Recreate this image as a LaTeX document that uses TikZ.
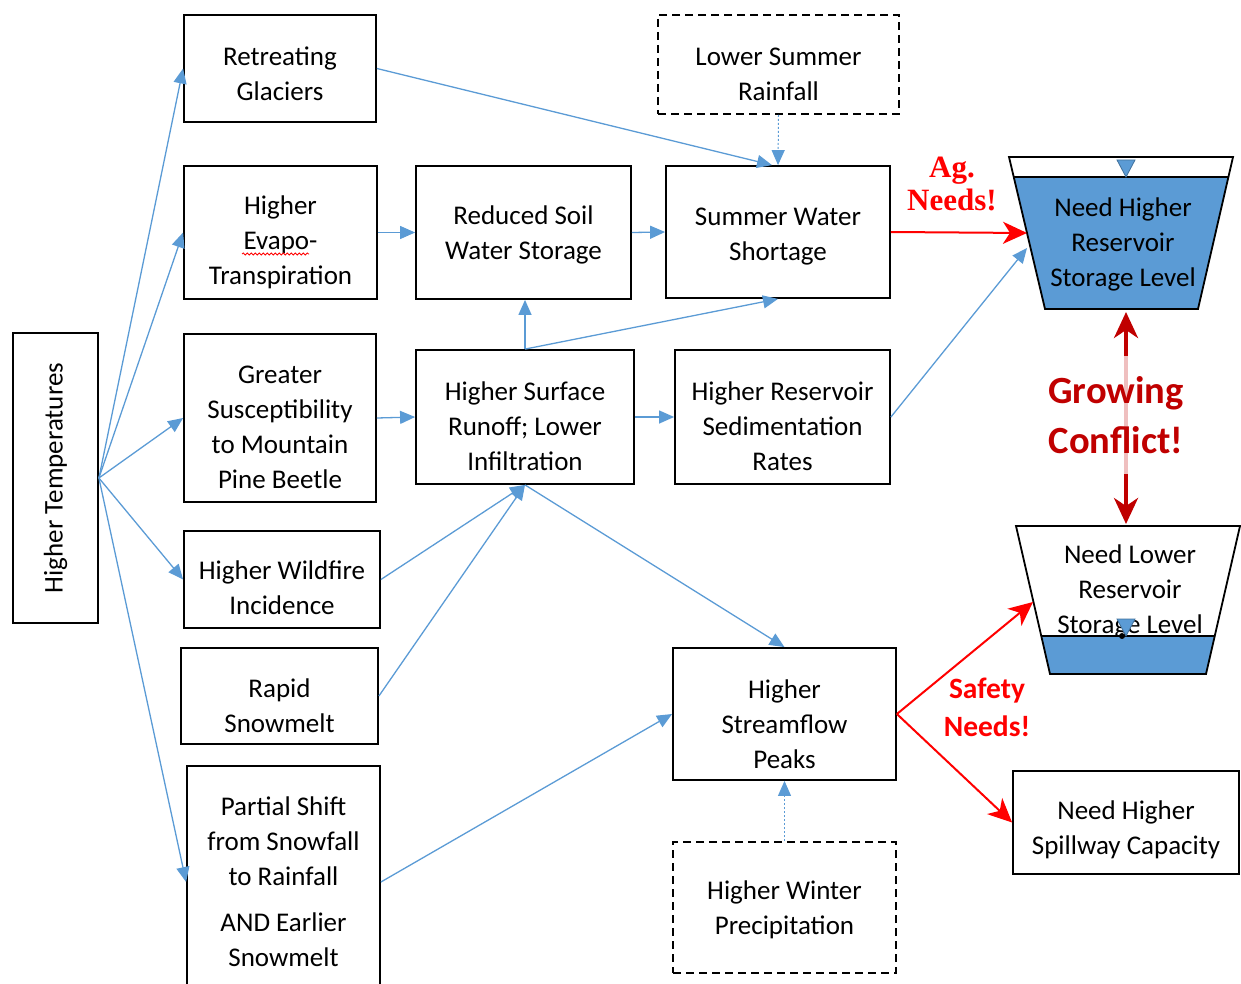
\documentclass[tikz,border=0pt]{standalone}
\usepackage{fontspec}
\usepackage{graphicx}
\setmainfont{Carlito}
\newfontfamily\agfont{Liberation Serif}
\usetikzlibrary{arrows.meta,decorations.pathmorphing}
\definecolor{flowblue}{RGB}{91,155,213}
\definecolor{edgeblue}{RGB}{65,113,156}
\definecolor{needred}{RGB}{255,0,0}
\definecolor{conflictred}{RGB}{192,0,0}
% pushes the text of a box down by #1 pt
\newcommand{\txtdown}[1]{\rule{0pt}{\numexpr20+2*#1\relax pt}}

\begin{document}
\begin{tikzpicture}[x=1pt,y=-1pt,
  box/.style={draw,line width=1.8pt,align=center,inner sep=0pt,font=\fontsize{27}{35}\selectfont},
  dashbox/.style={box,dash pattern=on 8pt off 5pt},
  flow/.style={flowblue,line width=1.3pt,-{Triangle[length=15pt,width=13pt]}},
  weak/.style={flow,line width=1pt,dash pattern=on 2pt off 2pt},
  need/.style={needred,line width=2pt,-{Stealth[length=24pt,width=22pt,inset=7pt]}},
  tank/.style={line width=1.8pt,line join=miter}]
\clip (0,0) rectangle (1241,984);
\useasboundingbox (0,0) rectangle (1241,984);

% causes
\node (temp) at (55.5,478) [box,minimum width=85pt,minimum height=290pt] {\rotatebox{90}{Higher Temperatures}};
\node (glac) at (280,68.5) [box,minimum width=192pt,minimum height=107pt] {\txtdown{5}Retreating\\Glaciers};
\node (evap) at (280.5,232.5) [box,minimum width=193pt,minimum height=133pt] {\txtdown{9}Higher\\Evapo-\\Transpiration};
\node (beet) at (280,418) [box,minimum width=192pt,minimum height=168pt] {\txtdown{8}Greater\\Susceptibility\\to Mountain\\Pine Beetle};
\node (fire) at (282,579.5) [box,minimum width=196pt,minimum height=97pt] {\txtdown{8}Higher Wildfire\\Incidence};
\node (melt) at (279.5,696) [box,minimum width=197pt,minimum height=96pt] {\txtdown{9}Rapid\\Snowmelt};
\node (shift) at (283.5,882) [box,minimum width=193pt,minimum height=232pt] {Partial Shift\\from Snowfall\\to Rainfall\\[11pt]AND Earlier\\Snowmelt};
\draw[needred,line width=.8pt,decorate,decoration={snake,amplitude=1pt,segment length=4pt}] (242,254) -- (309,254);

% effects
\node (soil) at (523.5,232.5) [box,minimum width=215pt,minimum height=133pt] {\txtdown{2}Reduced Soil\\Water Storage};
\node (runoff) at (525,417) [box,minimum width=218pt,minimum height=134pt] {\txtdown{9}Higher Surface\\Runoff; Lower\\Infiltration};
\node (rain) at (778.5,64.5) [dashbox,minimum width=241pt,minimum height=99pt] {\txtdown{9}Lower Summer\\Rainfall};
\node (short) at (778,232) [box,minimum width=224pt,minimum height=132pt] {\txtdown{3}Summer Water\\Shortage};
\node (sed) at (782.5,417) [box,minimum width=215pt,minimum height=134pt] {\txtdown{9}Higher Reservoir\\Sedimentation\\Rates};
\node (peak) at (784.5,714) [box,minimum width=223pt,minimum height=132pt] {\txtdown{10}Higher\\Streamflow\\Peaks};
\node (winter) at (784.5,907.5) [dashbox,minimum width=223pt,minimum height=131pt] {\txtdown{2}Higher Winter\\Precipitation};
\node (spill) at (1126,822.5) [box,minimum width=226pt,minimum height=103pt] {\txtdown{7}Need Higher\\Spillway Capacity};

% reservoirs
\fill[flowblue] (1013.7,177) -- (1228.4,177) -- (1198,309) -- (1045,309) -- cycle;
\draw[tank] (1013.7,177) -- (1228.4,177);
\filldraw[fill=flowblue,draw=edgeblue,line width=.8pt] (1117,160) -- (1135,160) -- (1126,177) -- cycle;
\draw[tank] (1009,157) -- (1233,157) -- (1198,309) -- (1045,309) -- cycle;
\node (hires) at (1123,244) [align=center,font=\fontsize{27}{35}\selectfont] {Need Higher\\Reservoir\\Storage Level};
\coordinate (hiresW) at (1027,233);
\coordinate (hiresW2) at (1027,248);
\coordinate (hiresS) at (1126,312);

\node (lores) at (1130,591) [align=center,font=\fontsize{27}{35}\selectfont] {Need Lower\\Reservoir\\Storage Level};
\fill[flowblue] (1041.3,636) -- (1214.7,636) -- (1206,674) -- (1050,674) -- cycle;
\draw[tank] (1041.3,636) -- (1214.7,636);
\filldraw[fill=flowblue,draw=edgeblue,line width=.8pt] (1117,619) -- (1135,619) -- (1126,636) -- cycle;
\fill (1122,636) circle (3pt);
\draw[tank] (1016,526) -- (1240,526) -- (1206,674) -- (1050,674) -- cycle;
\coordinate (loresW) at (1033,602);
\coordinate (loresN) at (1126,524);

% blue links
\draw[flow] (temp.east) to (glac.west);
\draw[flow] (temp.east) to (evap.west);
\draw[flow] (temp.east) to (beet.west);
\draw[flow] (temp.east) to (fire.west);
\draw[flow] (temp.east) to (shift.west);
\draw[flow] (glac.east) to ([xshift=-6pt]short.north);
\draw[weak] (rain.south) to (short.north);
\draw[flow] (evap.east) to (soil.west);
\draw[flow] (soil.east) to (short.west);
\draw[flow] (beet.east) to (runoff.west);
\draw[flow] (runoff.north) to (runoff.north |- soil.south);
\draw[flow] (runoff.north) to (short.south);
\draw[flow] (runoff.east) to (sed.west);
\draw[flow] (sed.east) to (hiresW2);
\draw[flow] (fire.east) to (runoff.south);
\draw[flow] (melt.east) to (runoff.south);
\draw[flow] (runoff.south) to (peak.north);
\draw[flow] (shift.east) to (peak.west);
\draw[weak] (winter.north) to (peak.south);

% red links
\draw[need] (short.east) to (hiresW);
\draw[need] (peak.east) to (loresW);
\draw[need] (peak.east) to (spill.west);
\draw[conflictred,line width=4pt,{Stealth[length=26pt,width=24pt,inset=8pt]}-{Stealth[length=26pt,width=24pt,inset=8pt]}] (hiresS) to (loresN);

\node (ag) at (952,184) [needred,align=center,font=\agfont\bfseries\fontsize{31}{33}\selectfont] {Ag.\\Needs!};
\node (safety) at (987,707) [needred,align=center,font=\bfseries\fontsize{29.5}{38}\selectfont] {Safety\\Needs!};
\node (conflict) at (1116,415) [conflictred,align=center,fill=white,fill opacity=.75,text opacity=1,inner xsep=2pt,inner ysep=20pt,font=\bfseries\fontsize{38.5}{50}\selectfont] {Growing\\Conflict!};
\end{tikzpicture}
\end{document}
